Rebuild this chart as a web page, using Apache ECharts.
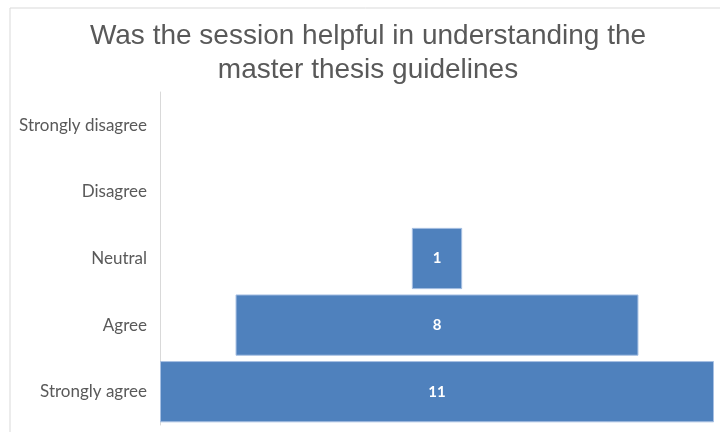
<!DOCTYPE html>
<html>
<head>
<meta charset="utf-8">
<script src="https://cdn.jsdelivr.net/npm/echarts@6/dist/echarts.min.js"></script>
<style>
  html, body { margin: 0; padding: 0; background: #fff; }
  #chart { width: 720px; height: 432px; }
</style>
</head>
<body>
<div id="chart"></div>
<script>
// answers, bottom to top
var categories = ['Strongly agree', 'Agree', 'Neutral', 'Disagree', 'Strongly disagree'];
var counts = [11, 8, 1, 0, 0];
var maxCount = 11;

var chart = echarts.init(document.getElementById('chart'));

// invisible padding so each bar sits in the centre
var offsets = counts.map(function (v) { return (maxCount - v) / 2; });
// no bar at all where the count is zero
var shown = counts.map(function (v) { return v > 0 ? v : '-'; });

var option = {
    backgroundColor: '#fff',
    animation: false,
    title: {
        text: 'Was the session helpful in understanding the\nmaster thesis guidelines',
        left: 363,
        top: 14,
        textAlign: 'center',
        textStyle: {
            fontFamily: 'Liberation Sans',
            fontSize: 28,
            fontWeight: 'normal',
            color: '#595959',
            lineHeight: 34
        }
    },
    graphic: [{
        type: 'rect',
        shape: { x: 10, y: 8, width: 730, height: 440 },
        style: { fill: 'none', stroke: '#d9d9d9', lineWidth: 1 },
        silent: true
    }],
    grid: { left: 160, right: 6, top: 92, bottom: 7 },
    xAxis: {
        type: 'value',
        min: 0,
        max: maxCount,
        show: false
    },
    yAxis: {
        type: 'category',
        data: categories,
        axisLine: { show: true, lineStyle: { color: '#d9d9d9' } },
        axisTick: { show: false },
        axisLabel: {
            fontFamily: 'Lato',
            fontSize: 17,
            color: '#595959',
            margin: 13
        }
    },
    series: [{
        type: 'bar',
        stack: 'f',
        data: offsets,
        itemStyle: { color: 'transparent' },
        barCategoryGap: '8%',
        silent: true
    }, {
        type: 'bar',
        stack: 'f',
        data: shown,
        barCategoryGap: '8%',
        itemStyle: { color: '#4f81bd', borderColor: '#a7c0e3', borderWidth: 1 },
        label: {
            show: true,
            position: 'inside',
            color: '#fff',
            fontFamily: 'Lato',
            fontSize: 15,
            fontWeight: 'bold'
        }
    }]
};

chart.setOption(option);
</script>
</body>
</html>
